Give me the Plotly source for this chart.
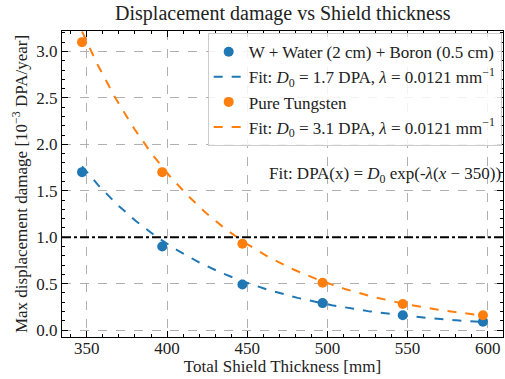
import numpy as np
import plotly.graph_objects as go

thickness = [347, 397, 447, 497, 547, 597]
dpa_wwb = [1.70, 0.90, 0.49, 0.29, 0.16, 0.09]
dpa_w = [3.10, 1.70, 0.93, 0.51, 0.28, 0.16]
fit_d0_wwb = 1.7
fit_d0_w = 3.1
fit_lambda = 0.0121
x_ref = 350
threshold = 1.0

xf = np.linspace(thickness[0], thickness[-1], 200)
fit_wwb = fit_d0_wwb * np.exp(-fit_lambda * (xf - x_ref))
fit_w = fit_d0_w * np.exp(-fit_lambda * (xf - x_ref))

BLUE = "#1f77b4"
ORANGE = "#ff7f0e"
FONT = "Liberation Serif"
TXT = "#222"
FS = 17

fig = go.Figure()
fig.add_trace(go.Scatter(x=thickness, y=dpa_wwb, mode="markers",
                         marker=dict(color=BLUE, size=10),
                         name="W + Water (2 cm) + Boron (0.5 cm)"))
fig.add_trace(go.Scatter(x=xf, y=fit_wwb, mode="lines",
                         line=dict(color=BLUE, dash="dash", width=2),
                         name="Fit: <i>D</i><sub>0</sub> = 1.7 DPA, <i>λ</i> = 0.0121 mm<sup>−1</sup>"))
fig.add_trace(go.Scatter(x=thickness, y=dpa_w, mode="markers",
                         marker=dict(color=ORANGE, size=10),
                         name="Pure Tungsten"))
fig.add_trace(go.Scatter(x=xf, y=fit_w, mode="lines",
                         line=dict(color=ORANGE, dash="dash", width=2),
                         name="Fit: <i>D</i><sub>0</sub> = 3.1 DPA, <i>λ</i> = 0.0121 mm<sup>−1</sup>"))

fig.add_shape(type="line", xref="paper", x0=0, x1=1, yref="y", y0=threshold, y1=threshold,
              line=dict(color="black", width=2, dash="dashdot"))

fig.add_annotation(x=1.0, xref="paper", y=1.67, yref="y", xanchor="right", yanchor="middle",
                   text="Fit: DPA(x) = <i>D</i><sub>0</sub> exp(-<i>λ</i>(<i>x</i> − 350))",
                   showarrow=False, font=dict(family=FONT, size=FS, color=TXT))

axis_common = dict(showline=True, linecolor="black", linewidth=1.2, mirror="ticks",
                   ticks="inside", ticklen=6, tickwidth=1, tickcolor="black",
                   showgrid=True, gridcolor="#b0b0b0", griddash="dash", gridwidth=1,
                   zeroline=False, tickfont=dict(family=FONT, size=FS, color=TXT))

fig.update_xaxes(range=[334.5, 609.5], tickvals=[350, 400, 450, 500, 550, 600],
                 minor=dict(ticks="inside", ticklen=3, tickcolor="black", dtick=10, showgrid=False),
                 ticklabelstandoff=-5,
                 title=dict(text="Total Shield Thickness [mm]", font=dict(family=FONT, size=FS, color=TXT), standoff=2),
                 **axis_common)
fig.update_yaxes(range=[-0.075, 3.22], tickvals=[0, 0.5, 1.0, 1.5, 2.0, 2.5, 3.0],
                 ticktext=["0.0", "0.5", "1.0", "1.5", "2.0", "2.5", "3.0"],
                 minor=dict(ticks="inside", ticklen=3, tickcolor="black", dtick=0.1, showgrid=False),
                 title=dict(text="Max displacement damage [10<sup>−3</sup> DPA/year]", font=dict(family=FONT, size=FS, color=TXT), standoff=4),
                 **axis_common)

fig.update_layout(
    width=505, height=379,
    margin=dict(l=62, r=2, t=31, b=42, autoexpand=False),
    paper_bgcolor="white", plot_bgcolor="white",
    title=dict(text="Displacement damage vs Shield thickness", x=0.56, xanchor="center",
               y=0.966, yanchor="middle", font=dict(family=FONT, size=20, color=TXT)),
    font=dict(family=FONT, size=FS, color=TXT),
    legend=dict(x=0.997, y=0.993, xanchor="right", yanchor="top",
                bgcolor="rgba(255,255,255,0.85)", bordercolor="#cccccc", borderwidth=1,
                font=dict(family=FONT, size=FS, color=TXT), tracegroupgap=0, itemwidth=30),
    showlegend=True,
)

fig.write_html("out.html", config={"displayModeBar": False},
               post_script="document.body.style.margin='0';")
